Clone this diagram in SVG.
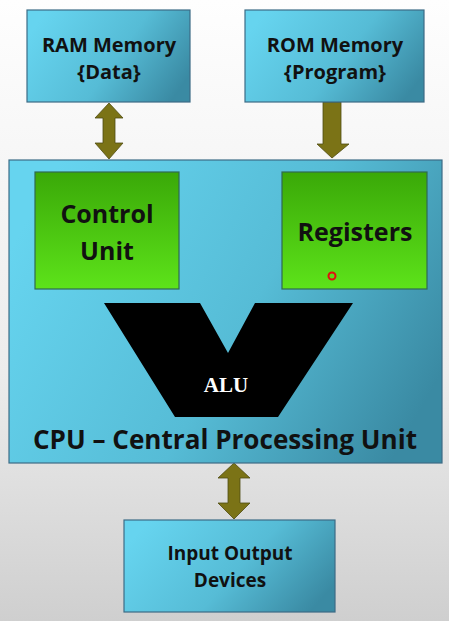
<svg xmlns="http://www.w3.org/2000/svg" width="449" height="621" viewBox="0 0 449 621">
<defs>
<linearGradient id="bg" x1="0" y1="0" x2="0" y2="1">
<stop offset="0" stop-color="#fefefe"/><stop offset="0.6" stop-color="#ececec"/><stop offset="1" stop-color="#cfcfcf"/>
</linearGradient>
<linearGradient id="blue" x1="0" y1="0.3" x2="1" y2="0.7">
<stop offset="0" stop-color="#66d4ef"/><stop offset="0.55" stop-color="#56bcd6"/><stop offset="1" stop-color="#3a8aa3"/>
</linearGradient>
<linearGradient id="green" x1="0" y1="0" x2="0" y2="1">
<stop offset="0" stop-color="#3aa808"/><stop offset="1" stop-color="#5de31a"/>
</linearGradient>
<style>
.box{fill:url(#blue);stroke:#3c6c86;stroke-width:1.2}
.gbox{fill:url(#green);stroke:#2f6a52;stroke-width:1.2}
.arr{fill:#7b7316;stroke:#4f4b12;stroke-width:0.8}
.t{font-family:"Open Sans","Liberation Sans",sans-serif;font-weight:bold;fill:#111;text-anchor:middle}
</style>
</defs>
<rect width="449" height="621" fill="url(#bg)"/>
<g id="connectors">
<polygon class="arr" points="109,103 123,118 115,118 115,143 123,143 109,159 95,143 103,143 103,118 95,118"/>
<polygon class="arr" points="323,102 341,102 341,144 349,144 332,158 317,144 323,144"/>
<polygon class="arr" points="234,463 250,478 240,478 240,503 250,503 234,519 218,503 228,503 228,478 218,478"/>
</g>
<g id="ram">
<rect class="box" x="27" y="10" width="163" height="92"/>
<text class="t" x="109" y="52" font-size="20">RAM Memory</text>
<text class="t" x="109" y="79" font-size="20">{Data}</text>
</g>
<g id="rom">
<rect class="box" x="245" y="10" width="179" height="92"/>
<text class="t" x="335" y="52" font-size="20">ROM Memory</text>
<text class="t" x="335" y="79" font-size="20">{Program}</text>
</g>
<g id="cpu">
<rect class="box" x="9" y="160" width="433" height="303"/>
<text class="t" x="225" y="449" font-size="26" textLength="384" lengthAdjust="spacingAndGlyphs">CPU – Central Processing Unit</text>
</g>
<g id="control-unit">
<rect class="gbox" x="35" y="172" width="144" height="117"/>
<text class="t" x="107" y="223" font-size="25">Control</text>
<text class="t" x="107" y="260" font-size="25">Unit</text>
</g>
<g id="registers">
<rect class="gbox" x="282" y="172" width="145" height="117"/>
<text class="t" x="355" y="241" font-size="25">Registers</text>
<circle cx="332" cy="276" r="3.5" fill="none" stroke="#e01010" stroke-width="2"/>
</g>
<g id="alu">
<polygon points="104,303 200,303 228,353 255,303 353,303 278,417 175,417" fill="#000"/>
<text x="226" y="392" font-family="'Liberation Serif',serif" font-weight="bold" font-size="21" fill="#fff" text-anchor="middle">ALU</text>
</g>
<g id="io">
<rect class="box" x="124" y="520" width="211" height="92"/>
<text class="t" x="230" y="560" font-size="19">Input Output</text>
<text class="t" x="230" y="587" font-size="19">Devices</text>
</g>
</svg>
